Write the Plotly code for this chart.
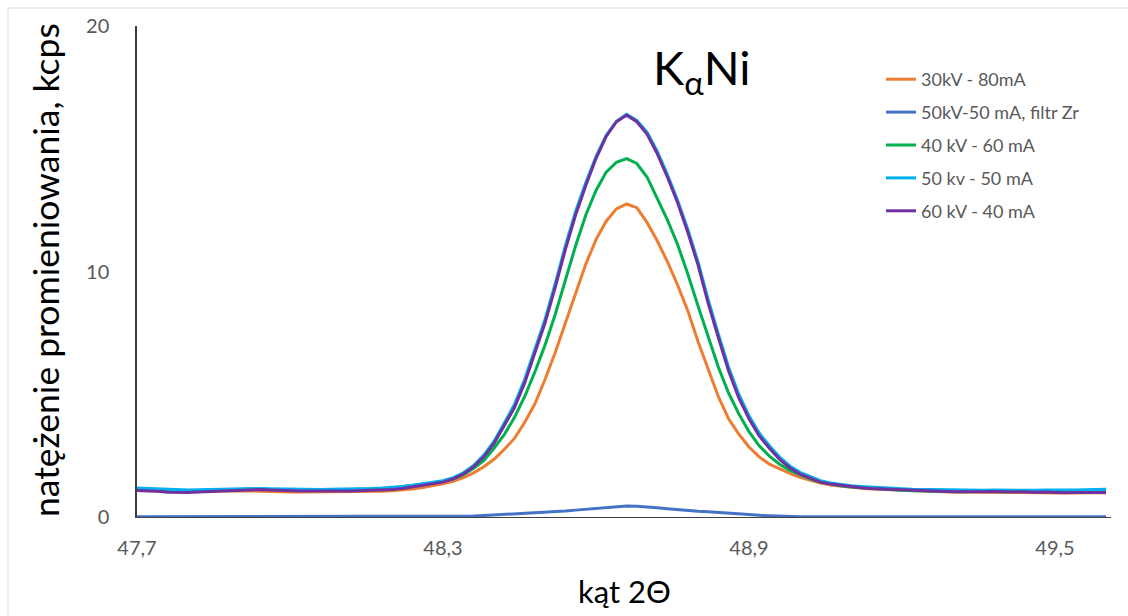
import plotly.graph_objects as go

# x: 2-theta angle, 47.70 .. 49.60 step 0.02
x = [round(47.70 + 0.02 * i, 2) for i in range(96)]

tail_left_purple = [1.08, 1.07, 1.05, 1.01, 0.99, 1.00, 1.02, 1.04, 1.06, 1.08, 1.10, 1.12, 1.12, 1.10, 1.08,
                    1.07, 1.06, 1.06, 1.07, 1.07, 1.06, 1.06, 1.07, 1.09, 1.10, 1.12, 1.16, 1.22, 1.28, 1.34]

s_orange = [1.08, 1.07, 1.06, 1.04, 1.03, 1.04, 1.05, 1.06, 1.07, 1.08, 1.08, 1.07, 1.05, 1.03, 1.02,
            1.02, 1.02, 1.02, 1.02, 1.03, 1.03, 1.03, 1.03, 1.04, 1.05, 1.07, 1.10, 1.14, 1.20, 1.27,
            1.35, 1.45, 1.60, 1.80, 2.05, 2.35, 2.75, 3.20, 3.85, 4.60, 5.60, 6.70, 7.90, 9.10, 10.30,
            11.30, 12.05, 12.55, 12.75, 12.60, 12.00, 11.25, 10.40, 9.45, 8.40, 7.15, 6.00, 4.90, 4.00, 3.38,
            2.85, 2.45, 2.15, 1.95, 1.78, 1.62, 1.50, 1.38, 1.30, 1.25, 1.20, 1.17, 1.14, 1.12, 1.10,
            1.08, 1.06, 1.05, 1.04, 1.03, 1.02, 1.02, 1.01, 1.01, 1.00, 0.99, 0.99, 1.00, 1.00, 0.99,
            0.98, 0.99, 1.00, 0.99, 0.99, 0.99]

s_blue = [0.01] * 30 + [
    0.01, 0.02, 0.03, 0.04, 0.06, 0.08, 0.10, 0.11, 0.13, 0.16, 0.18, 0.20, 0.24, 0.28, 0.31,
    0.35, 0.39, 0.43, 0.45, 0.44, 0.42, 0.38, 0.34, 0.30, 0.26, 0.23, 0.21, 0.19, 0.16, 0.13,
    0.10, 0.07, 0.05, 0.03, 0.02, 0.01] + [0.01] * 30

s_green = [1.13, 1.12, 1.10, 1.08, 1.06, 1.07, 1.08, 1.09, 1.10, 1.12, 1.13, 1.14, 1.14, 1.12, 1.10,
           1.09, 1.08, 1.08, 1.09, 1.10, 1.10, 1.10, 1.11, 1.13, 1.15, 1.18, 1.22, 1.27, 1.33, 1.39,
           1.45, 1.55, 1.72, 1.98, 2.30, 2.80, 3.35, 4.05, 4.90, 5.90, 7.00, 8.25, 9.65, 11.05, 12.30,
           13.30, 14.05, 14.45, 14.60, 14.40, 13.85, 13.00, 12.10, 11.10, 9.90, 8.60, 7.30, 6.10, 5.05, 4.20,
           3.48, 2.90, 2.48, 2.15, 1.90, 1.72, 1.55, 1.42, 1.33, 1.27, 1.22, 1.19, 1.16, 1.13, 1.11,
           1.09, 1.07, 1.06, 1.05, 1.04, 1.04, 1.03, 1.04, 1.05, 1.04, 1.03, 1.03, 1.04, 1.05, 1.05,
           1.04, 1.04, 1.05, 1.06, 1.06, 1.06]

s_cyan = [1.18, 1.16, 1.14, 1.12, 1.10, 1.10, 1.11, 1.12, 1.13, 1.15, 1.16, 1.17, 1.16, 1.15, 1.14,
          1.13, 1.12, 1.12, 1.12, 1.13, 1.13, 1.13, 1.14, 1.16, 1.18, 1.20, 1.24, 1.29, 1.35, 1.41,
          1.48, 1.60, 1.80, 2.10, 2.52, 3.08, 3.80, 4.58, 5.60, 6.80, 8.05, 9.50, 11.05, 12.45, 13.62,
          14.68, 15.55, 16.12, 16.40, 16.15, 15.68, 14.90, 13.95, 12.90, 11.72, 10.40, 8.85, 7.45, 6.10, 5.00,
          4.12, 3.42, 2.90, 2.44, 2.08, 1.82, 1.64, 1.48, 1.39, 1.32, 1.27, 1.24, 1.21, 1.19, 1.17,
          1.15, 1.13, 1.12, 1.11, 1.10, 1.09, 1.09, 1.08, 1.09, 1.10, 1.09, 1.08, 1.08, 1.09, 1.10,
          1.09, 1.09, 1.10, 1.11, 1.12, 1.13]

s_purple = tail_left_purple + [
    1.42, 1.55, 1.75, 2.05, 2.45, 3.00, 3.70, 4.45, 5.45, 6.65, 7.90, 9.35, 10.90, 12.30, 13.50,
    14.60, 15.50, 16.10, 16.37, 16.10, 15.60, 14.80, 13.85, 12.80, 11.60, 10.27, 8.70, 7.30, 5.95, 4.85,
    4.00, 3.30, 2.80, 2.35, 2.00, 1.75, 1.58, 1.42, 1.34, 1.28, 1.23, 1.19, 1.16, 1.14, 1.12,
    1.10, 1.08, 1.06, 1.05, 1.04, 1.03, 1.03, 1.02, 1.03, 1.04, 1.03, 1.01, 1.00, 1.01, 1.02,
    1.00, 0.99, 1.00, 1.01, 1.00, 1.00]

names = ["30kV - 80mA", "50kV-50 mA, filtr Zr", "40 kV - 60 mA", "50 kv - 50 mA", "60 kV - 40 mA"]
series = [s_orange, s_blue, s_green, s_cyan, s_purple]
colors = ["#ED7D31", "#4472C4", "#00B050", "#00B0F0", "#7030A0"]

tick_vals = [47.7, 48.3, 48.9, 49.5]
tick_text = ["47,7", "48,3", "48,9", "49,5"]

fig = go.Figure()
for i, (nm, ys, c) in enumerate(zip(names, series, colors)):
    fig.add_trace(go.Scatter(x=x, y=ys, mode="lines", name=nm, legendgroup=str(i),
                             line=dict(color=c, width=3)))

# pixel helpers for the plot area (left 137, right 1111, top 26, bottom 517)
L, R, T, B = 137, 1111, 26, 517
def px(v):
    return (v - L) / (R - L)
def py(v):
    return (B - v) / (B - T)

FONT = "Lato"
fig.update_layout(
    width=1128, height=616,
    margin=dict(l=L, r=1128 - R, t=T, b=616 - B),
    paper_bgcolor="white", plot_bgcolor="white",
    font=dict(family=FONT, color="#595959"),
    showlegend=True,
    legend=dict(x=px(881), y=py(61), xanchor="left", yanchor="top",
                font=dict(size=18, color="#595959", family=FONT),
                tracegroupgap=6.5, bgcolor="rgba(0,0,0,0)"),
    xaxis=dict(range=[47.70, 47.70 + (R - L) / 510.0], tickvals=tick_vals, ticktext=tick_text,
               showgrid=False, zeroline=False, showline=True, linecolor="#404040", linewidth=1,
               ticks="outside", ticklen=13, tickcolor="rgba(0,0,0,0)",
               tickfont=dict(size=20, color="#595959")),
    yaxis=dict(range=[0, 20], tickvals=[0, 10, 20], showgrid=False, zeroline=False,
               showline=True, linecolor="#404040", linewidth=1.5,
               ticks="outside", ticklen=22, tickcolor="rgba(0,0,0,0)",
               tickfont=dict(size=20, color="#595959")),
    annotations=[
        dict(text="natężenie promieniowania, kcps", x=px(45), y=py(270), xref="paper", yref="paper",
             textangle=-90, showarrow=False, font=dict(size=35.5, color="black", family=FONT),
             xanchor="center", yanchor="middle"),
        dict(text="kąt 2Θ", x=px(624), y=py(591), xref="paper", yref="paper",
             showarrow=False, font=dict(size=31, color="black", family=FONT),
             xanchor="center", yanchor="middle"),
        dict(text="K<sub>α</sub>Ni", x=px(701), y=py(70), xref="paper", yref="paper",
             showarrow=False, font=dict(size=47, color="black", family=FONT),
             xanchor="center", yanchor="middle"),
    ],
    shapes=[dict(type="rect", xref="paper", yref="paper", x0=px(8), x1=px(1160), y0=py(650), y1=py(8),
                 line=dict(color="#D9D9D9", width=1), fillcolor="rgba(0,0,0,0)", layer="below")],
)

fig.write_html("out.html")
